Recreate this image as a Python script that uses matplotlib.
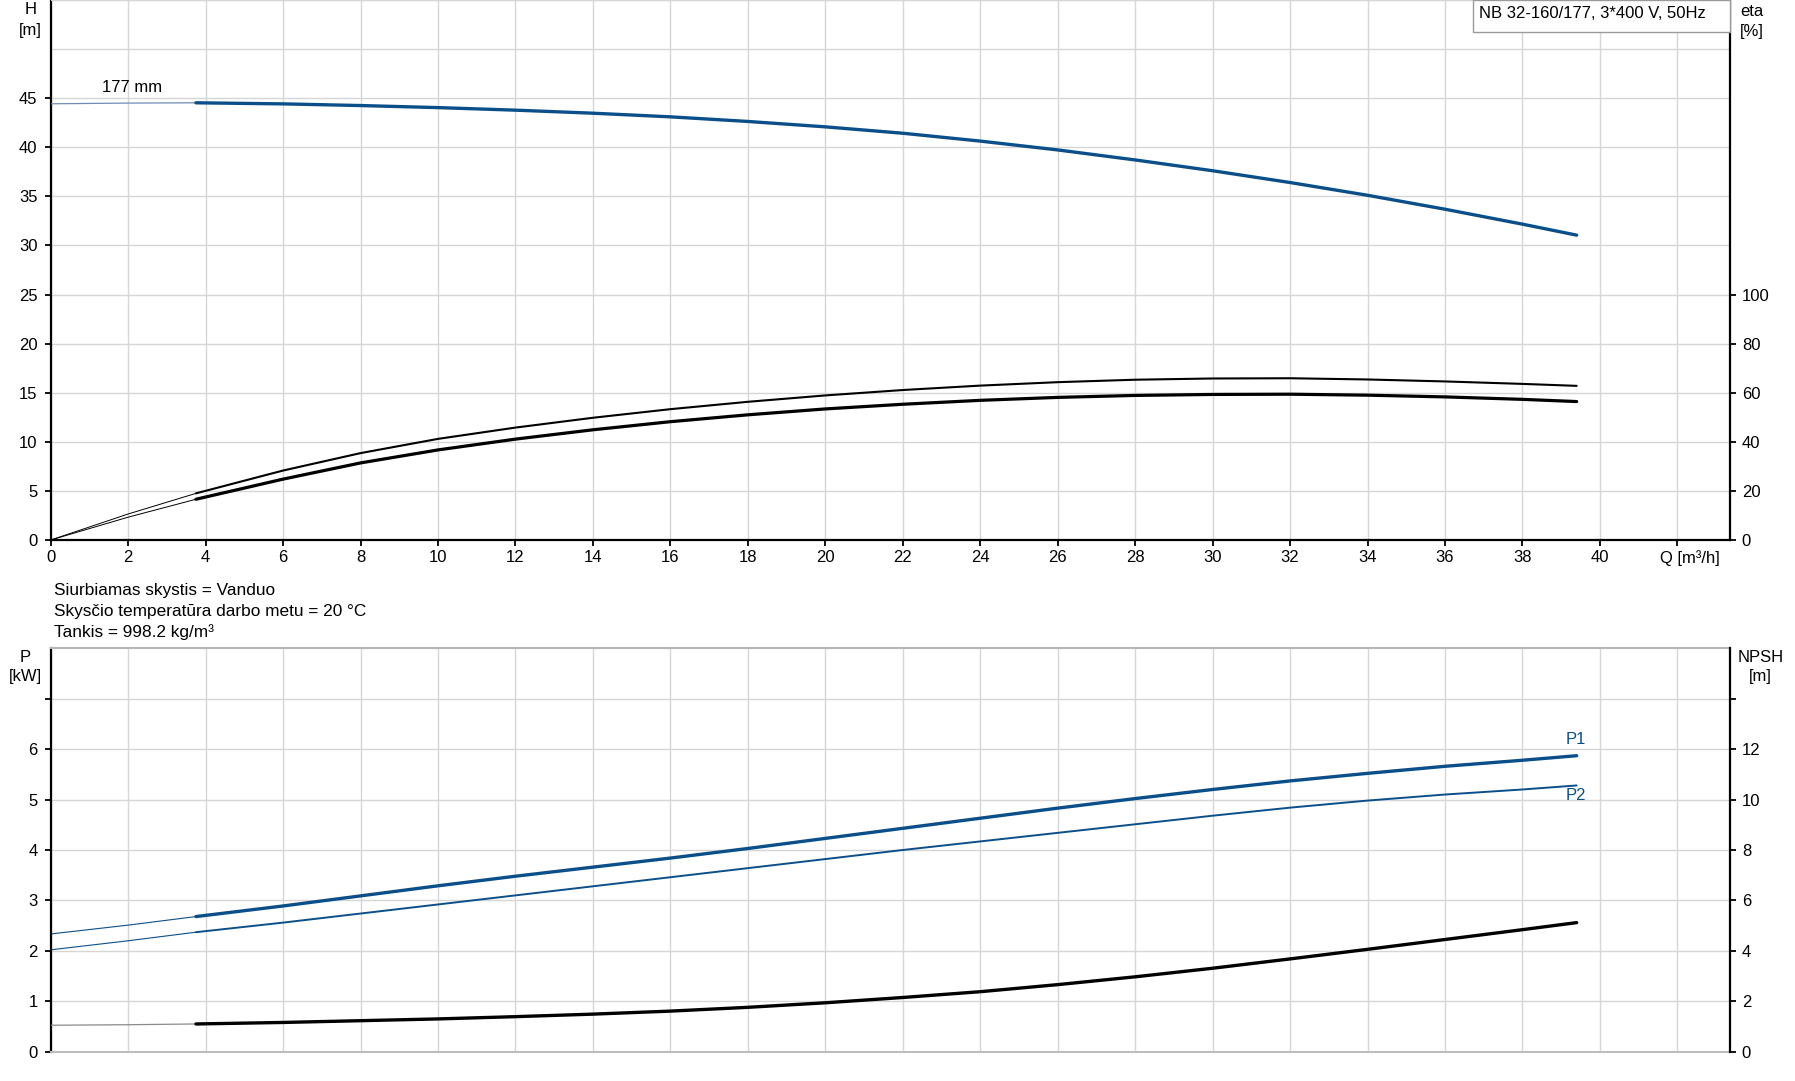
import matplotlib
matplotlib.use("Agg")
import matplotlib.pyplot as plt
from matplotlib.patches import Rectangle
from matplotlib.transforms import ScaledTranslation

plt.rcParams['font.family'] = ['Liberation Sans', 'DejaVu Sans']

# ---------------- data ----------------
q = [0, 2, 3.75, 6, 8, 10, 12, 14, 16, 18, 20, 22, 24, 26, 28, 30, 32, 34, 36, 38, 39.4]
head = [44.43, 44.5, 44.53, 44.42, 44.25, 44.04, 43.78, 43.47, 43.1, 42.63, 42.08,
        41.43, 40.63, 39.73, 38.71, 37.61, 36.41, 35.11, 33.69, 32.17, 31.05]
eta_pump = [0, 10.6, 19.0, 28.3, 35.4, 41.2, 45.8, 49.8, 53.3, 56.3, 58.9,
            61.1, 62.9, 64.3, 65.3, 65.8, 65.9, 65.4, 64.6, 63.6, 62.8]
eta_total = [0, 9.3, 16.6, 24.8, 31.4, 36.7, 41.1, 44.9, 48.2, 51.0, 53.4,
             55.3, 56.9, 58.1, 58.9, 59.3, 59.4, 59.0, 58.3, 57.3, 56.4]
p1 = [2.335, 2.51, 2.68, 2.89, 3.09, 3.29, 3.48, 3.66, 3.84, 4.03, 4.23,
      4.43, 4.63, 4.83, 5.02, 5.20, 5.37, 5.52, 5.66, 5.78, 5.87]
p2 = [2.02, 2.2, 2.37, 2.56, 2.74, 2.92, 3.1, 3.28, 3.46, 3.64, 3.82,
      4.0, 4.17, 4.34, 4.51, 4.68, 4.84, 4.98, 5.10, 5.20, 5.28]
npsh = [1.05, 1.07, 1.10, 1.16, 1.23, 1.30, 1.39, 1.49, 1.61, 1.76, 1.94,
        2.15, 2.38, 2.66, 2.97, 3.31, 3.68, 4.06, 4.45, 4.84, 5.12]
n_thin = 3  # points 0..3.75 are drawn as thin extrapolation

q_ticks = list(range(0, 43, 2))
q_labels = [str(v) for v in range(0, 41, 2)] + ['Q [m³/h]']
h_ticks = list(range(0, 46, 5))
eta_ticks = list(range(0, 101, 20))
p_ticks = list(range(0, 8))
p_labels = [str(v) for v in range(0, 7)] + ['']
npsh_ticks = list(range(0, 15, 2))
npsh_labels = [str(v) for v in range(0, 13, 2)] + ['']

info_lines = ['Siurbiamas skystis = Vanduo',
              'Skysčio temperatūra darbo metu = 20 °C',
              'Tankis = 998.2 kg/m³']
title_box = 'NB 32-160/177, 3*400 V, 50Hz'

# ---------------- styling ----------------
W_PX, H_PX = 1795, 1081
BLUE = '#0b4f8a'
GRID = '#d6d6d6'
FS = 12

fig = plt.figure(figsize=(W_PX / 100, H_PX / 100), dpi=100)

def fx(px):
    return px / W_PX

def fy(py):
    return 1 - py / H_PX

L = fx(50.7)
Wd = fx(1730) - L
XMAX = (1730 - 50.7) / 38.73

# ---------------- top axes ----------------
ax1 = fig.add_axes([L, fy(540), Wd, fy(0) - fy(540)])
ax1.set_xlim(0, XMAX)
ax1.set_ylim(0, 55)
ax1.set_xticks(q_ticks)
ax1.set_xticklabels(q_labels)
ax1.set_yticks(h_ticks)
ax1.grid(True, color=GRID, lw=1.0, zorder=0)
for yv in (50, 55):
    ax1.axhline(yv, color=GRID, lw=1.0, zorder=0)
for s in ('left', 'bottom'):
    ax1.spines[s].set_color('black')
    ax1.spines[s].set_linewidth(1.6)
ax1.spines['top'].set_color(GRID)
ax1.spines['right'].set_visible(False)
ax1.tick_params(axis='both', direction='out', length=4.5, width=1.3, labelsize=FS)
ax1.tick_params(axis='y', pad=5)
ax1.tick_params(axis='x', pad=2.5)
lbl = ax1.get_xticklabels()[-1]
lbl.set_transform(lbl.get_transform() + ScaledTranslation(0.13, 0, fig.dpi_scale_trans))

ax1.plot(q[:n_thin], head[:n_thin], color='#6f8db3', lw=0.9, zorder=3)
ax1.plot(q[n_thin - 1:], head[n_thin - 1:], color=BLUE, lw=2.4, zorder=4,
         solid_capstyle='round', solid_joinstyle='round')
ax1.text(2.11, 46.1, '177 mm', ha='center', va='center', fontsize=FS)

ax1r = ax1.twinx()
ax1r.set_ylim(0, 220)
ax1r.set_yticks(eta_ticks)
for s in ('left', 'top', 'bottom'):
    ax1r.spines[s].set_visible(False)
ax1r.spines['right'].set_color('black')
ax1r.spines['right'].set_linewidth(1.6)
ax1r.tick_params(axis='y', direction='out', length=4.5, width=1.3, labelsize=FS, pad=4)
ax1r.plot(q[:n_thin], eta_pump[:n_thin], color='black', lw=0.7)
ax1r.plot(q[n_thin - 1:], eta_pump[n_thin - 1:], color='black', lw=1.5,
          solid_capstyle='round', solid_joinstyle='round')
ax1r.plot(q[:n_thin], eta_total[:n_thin], color='black', lw=0.7)
ax1r.plot(q[n_thin - 1:], eta_total[n_thin - 1:], color='black', lw=2.3,
          solid_capstyle='round', solid_joinstyle='round')

# ---------------- bottom axes ----------------
ax2 = fig.add_axes([L, fy(1051.7), Wd, fy(648.3) - fy(1051.7)])
ax2.set_xlim(0, XMAX)
ax2.set_ylim(0, 8)
ax2.set_xticks(q_ticks)
ax2.set_xticklabels([])
ax2.tick_params(axis='x', length=0)
ax2.set_yticks(p_ticks)
ax2.set_yticklabels(p_labels)
ax2.grid(True, color=GRID, lw=1.0, zorder=0)
ax2.spines['left'].set_color('black')
ax2.spines['left'].set_linewidth(1.6)
ax2.spines['top'].set_color('#b5b5b5')
ax2.spines['top'].set_linewidth(1.5)
ax2.spines['bottom'].set_color('#bdbdbd')
ax2.spines['bottom'].set_linewidth(1.5)
ax2.spines['right'].set_visible(False)
ax2.tick_params(axis='y', direction='out', length=4.5, width=1.3, labelsize=FS, pad=5)

ax2.plot(q[:n_thin], p1[:n_thin], color=BLUE, lw=0.8)
ax2.plot(q[n_thin - 1:], p1[n_thin - 1:], color=BLUE, lw=2.4,
         solid_capstyle='round', solid_joinstyle='round')
ax2.plot(q[:n_thin], p2[:n_thin], color=BLUE, lw=0.8)
ax2.plot(q[n_thin - 1:], p2[n_thin - 1:], color=BLUE, lw=1.4,
         solid_capstyle='round', solid_joinstyle='round')
ax2.text(39.38, 6.2, 'P1', color=BLUE, ha='center', va='center', fontsize=FS)
ax2.text(39.38, 5.08, 'P2', color=BLUE, ha='center', va='center', fontsize=FS)

ax2r = ax2.twinx()
ax2r.set_ylim(0, 16)
ax2r.set_yticks(npsh_ticks)
ax2r.set_yticklabels(npsh_labels)
for s in ('left', 'top', 'bottom'):
    ax2r.spines[s].set_visible(False)
ax2r.spines['right'].set_color('black')
ax2r.spines['right'].set_linewidth(1.6)
ax2r.tick_params(axis='y', direction='out', length=4.5, width=1.3, labelsize=FS, pad=4)
ax2r.plot(q[:n_thin], npsh[:n_thin], color='#8a8a8a', lw=0.9)
ax2r.plot(q[n_thin - 1:], npsh[n_thin - 1:], color='black', lw=2.4,
          solid_capstyle='round', solid_joinstyle='round')

# ---------------- axis titles & texts ----------------
fig.text(fx(30.5), fy(10), 'H', ha='center', va='center', fontsize=FS)
fig.text(fx(30.5), fy(31), '[m]', ha='center', va='center', fontsize=FS)
fig.text(fx(1751.5), fy(11), 'eta', ha='center', va='center', fontsize=FS)
fig.text(fx(1751.5), fy(31.5), '[%]', ha='center', va='center', fontsize=FS)
fig.text(fx(25), fy(658), 'P', ha='center', va='center', fontsize=FS)
fig.text(fx(25), fy(677), '[kW]', ha='center', va='center', fontsize=FS)
fig.text(fx(1760.7), fy(658), 'NPSH', ha='center', va='center', fontsize=FS)
fig.text(fx(1760.7), fy(677), '[m]', ha='center', va='center', fontsize=FS)

for i, line in enumerate(info_lines):
    fig.text(fx(54), fy(590 + 21.2 * i), line, ha='left', va='center', fontsize=12.4)

box = Rectangle((fx(1473.3), fy(32.3)), fx(1730) - fx(1473.3), fy(0) - fy(32.3),
                transform=fig.transFigure, facecolor='white', edgecolor='#9a9a9a',
                lw=1.0, zorder=5)
fig.add_artist(box)
fig.text(fx(1479), fy(14), title_box, ha='left', va='center', fontsize=12, zorder=6)

fig.savefig('out.png', dpi=100)
